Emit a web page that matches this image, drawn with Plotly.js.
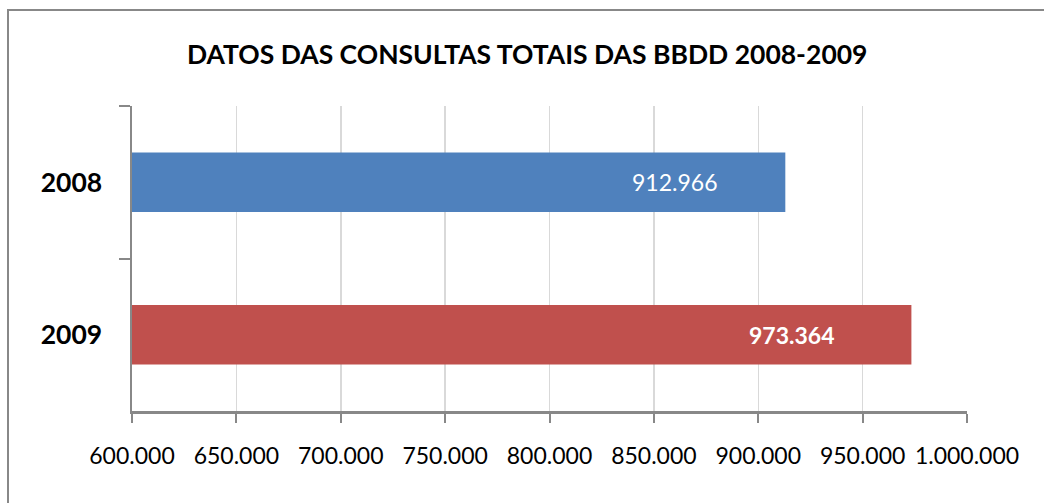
<!DOCTYPE html>
<html>
<head>
<meta charset="utf-8">
<script src="https://cdn.plot.ly/plotly-3.0.1.min.js"></script>
<style>
  html, body { margin: 0; padding: 0; background: #fff; }
  #wrap { position: relative; width: 1044px; height: 503px; overflow: hidden; }
  #chart { position: absolute; left: 0; top: 0; width: 1044px; height: 503px; }
  #frame { position: absolute; left: 7px; top: 9px; width: 1100px; height: 600px;
           border-top: 2px solid #888888; border-left: 2px solid #888888; pointer-events: none; }
</style>
</head>
<body>
<div id="wrap">
  <div id="chart"></div>
  <div id="frame"></div>
</div>
<script>
const titleText = "DATOS DAS CONSULTAS TOTAIS DAS BBDD 2008-2009";
const years = ["2008", "2009"];
const consultas = [912966, 973364];
const barColors = ["#4F81BD", "#C0504D"];
const labelWeights = ["normal", "bold"];
const labelShifts = [-66, -74];
const xTicks = [600000, 650000, 700000, 750000, 800000, 850000, 900000, 950000, 1000000];

const fmt = v => v.toString().replace(/\B(?=(\d{3})+(?!\d))/g, ".");

const trace = {
  type: "bar",
  orientation: "h",
  y: years,
  x: consultas,
  marker: { color: barColors },
  hoverinfo: "none",
  showlegend: false
};

const annotations = years.map((y, i) => ({
  x: consultas[i],
  y: i,
  xref: "x",
  yref: "y",
  text: fmt(consultas[i]),
  showarrow: false,
  xanchor: "right",
  yanchor: "middle",
  xshift: labelShifts[i],
  font: { family: "Lato, sans-serif", size: 23, color: "#ffffff", weight: labelWeights[i] }
}));

const layout = {
  width: 1044,
  height: 503,
  margin: { l: 132, r: 77, t: 106, b: 92 },
  paper_bgcolor: "rgba(0,0,0,0)",
  plot_bgcolor: "#ffffff",
  title: {
    text: "<b>" + titleText + "</b>",
    font: { family: "Lato, sans-serif", size: 26.5, color: "#000000" },
    xref: "container",
    x: 0.505,
    xanchor: "center",
    yref: "container",
    y: 1 - 55 / 503,
    yanchor: "middle"
  },
  bargap: 0.61,
  xaxis: {
    range: [600000, 1000000],
    tickvals: xTicks,
    ticktext: xTicks.map(fmt),
    showgrid: true,
    gridcolor: "#d9d9d9",
    gridwidth: 1.5,
    zeroline: false,
    showline: true,
    linecolor: "#888888",
    linewidth: 2.5,
    ticks: "outside",
    ticklen: 9,
    tickwidth: 2,
    tickcolor: "#888888",
    ticklabelstandoff: 14,
    tickfont: { family: "Lato, sans-serif", size: 23, color: "#000000" },
    fixedrange: true
  },
  yaxis: {
    type: "category",
    range: [1.5, -0.5],
    tickson: "boundaries",
    showgrid: false,
    zeroline: false,
    showline: true,
    linecolor: "#888888",
    linewidth: 2.5,
    ticks: "outside",
    ticklen: 11,
    tickwidth: 2,
    tickcolor: "#888888",
    ticklabelstandoff: 22,
    tickfont: { family: "Lato, sans-serif", size: 26.5, color: "#000000", weight: "bold" },
    fixedrange: true
  },
  annotations: annotations
};

Plotly.newPlot("chart", [trace], layout, { displayModeBar: false, staticPlot: true });
</script>
</body>
</html>
